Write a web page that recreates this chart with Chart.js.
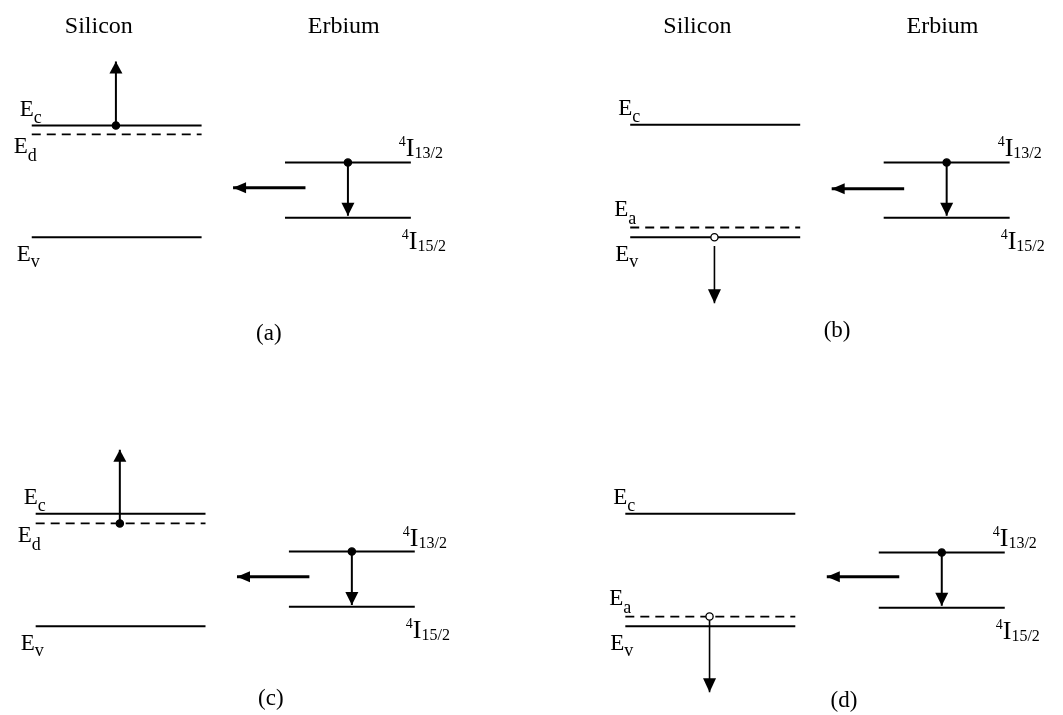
<!DOCTYPE html>
<html>
<head>
<meta charset="utf-8">
<title>Silicon / Erbium energy transfer</title>
<script src="https://cdn.jsdelivr.net/npm/chart.js@4.4.1/dist/chart.umd.min.js"></script>
<style>
  html, body { margin: 0; padding: 0; background: #fff; }
  body { width: 1063px; height: 715px; position: relative; overflow: hidden; }
  canvas { position: absolute; }
</style>
</head>
<body>
<canvas id="panel0"></canvas>
<canvas id="panel1"></canvas>
<canvas id="panel2"></canvas>
<canvas id="panel3"></canvas>
<script>
// Level energies in arbitrary units, valence band edge = 0. One entry per panel.
const panelNames = ["(a)", "(b)", "(c)", "(d)"];
const columnTitles = ["Silicon", "Erbium"];
const impuritySub = ["d", "a", "d", "a"];          // donor / acceptor
const conductionBand = [1.15, 1.16, 1.16, 1.16];
const impurityLevel = [1.06, 0.10, 1.06, 0.10];
const valenceBand = [0, 0, 0, 0];
const erUpper = [0.77, 0.77, 0.77, 0.76];          // 4I13/2
const erLower = [0.20, 0.20, 0.20, 0.19];          // 4I15/2
const carrierLevel = [1.15, 0, 1.06, 0.10];        // electron (a,c) or hole (b,d)
const carrierArrowFrom = [1.15, -0.09, 1.06, 0.10];
const carrierArrowTo = [1.81, -0.68, 1.82, -0.68];
const transferLevel = [0.51, 0.50, 0.51, 0.51];
const isHole = [false, true, false, true];

// geometry
const UNIT_PX = 38.7;     // px per horizontal unit
const ENERGY_PX = 100;    // px per energy unit
const SI_X = [0, 4.48];
const ER_X = [6.68, 10.0];
const CARRIER_X = 2.22;
const ER_ARROW_X = 8.34;
const TRANSFER_X = [7.22, 5.31];
const HEADER_X = [1.77, 8.23];
const HEADER_BASELINE = 29;

const layout = [
  { left: 0,   top: 0,   width: 520, height: 357, originX: 27,  evY: 239, capX: 269, capY: 339, header: true },
  { left: 520, top: 0,   width: 543, height: 357, originX: 627, evY: 239, capX: 838, capY: 336, header: true },
  { left: 0,   top: 357, width: 520, height: 358, originX: 31,  evY: 629, capX: 271, capY: 704, header: false },
  { left: 520, top: 357, width: 543, height: 358, originX: 622, evY: 629, capX: 845, capY: 706, header: false }
];

const SERIF = "'Liberation Serif', 'Times New Roman', serif";

function levelLine(x0, x1, e, extra) {
  return Object.assign({
    data: [{ x: x0, y: e }, { x: x1, y: e }],
    showLine: true,
    borderColor: "#000",
    borderWidth: 2,
    pointRadius: 0,
    order: 2
  }, extra || {});
}

// filled triangle at the last point of datasets flagged with arrowHead
const arrowHeads = {
  id: "arrowHeads",
  afterDatasetsDraw(chart) {
    const ctx = chart.ctx;
    chart.data.datasets.forEach((ds, i) => {
      if (!ds.arrowHead) return;
      const pts = chart.getDatasetMeta(i).data;
      const a = pts[pts.length - 2], b = pts[pts.length - 1];
      const ang = Math.atan2(b.y - a.y, b.x - a.x);
      const [len, half] = ds.arrowHead;
      ctx.save();
      ctx.translate(b.x, b.y);
      ctx.rotate(ang);
      ctx.beginPath();
      ctx.moveTo(0, 0);
      ctx.lineTo(-len, -half);
      ctx.lineTo(-len, half);
      ctx.closePath();
      ctx.fillStyle = "#000";
      ctx.fill();
      ctx.restore();
    });
  }
};

// symbols like E_c or ^4I_13/2 anchored to data coordinates
function drawSymbol(ctx, px, py, s) {
  let cx = px;
  if (s.sup) {
    ctx.font = "14px " + SERIF;
    ctx.fillText(s.sup, cx, py - 10);
    cx += ctx.measureText(s.sup).width;
  }
  ctx.font = s.mainSize + "px " + SERIF;
  ctx.fillText(s.main, cx, py);
  cx += ctx.measureText(s.main).width;
  if (s.sub) {
    ctx.font = s.subSize + "px " + SERIF;
    ctx.fillText(s.sub, cx, py + s.subDrop);
  }
}

const textLabels = {
  id: "textLabels",
  afterDatasetsDraw(chart, args, opts) {
    const { ctx, scales: { x, y } } = chart;
    ctx.save();
    ctx.fillStyle = "#000";
    ctx.textBaseline = "alphabetic";
    ctx.textAlign = "left";
    opts.symbols.forEach(s => {
      drawSymbol(ctx, x.getPixelForValue(s.x) + s.dx, y.getPixelForValue(s.y) + s.dy, s);
    });
    ctx.textAlign = "center";
    opts.plain.forEach(t => {
      ctx.font = t.size + "px " + SERIF;
      ctx.textBaseline = t.baseline;
      ctx.fillText(t.text, x.getPixelForValue(t.x), y.getPixelForValue(t.y));
    });
    ctx.restore();
  }
};

panelNames.forEach((name, i) => {
  const lay = layout[i];
  const canvas = document.getElementById("panel" + i);
  canvas.width = lay.width;
  canvas.height = lay.height;
  canvas.style.left = lay.left + "px";
  canvas.style.top = lay.top + "px";

  const xMin = (lay.left - lay.originX) / UNIT_PX;
  const xMax = (lay.left + lay.width - lay.originX) / UNIT_PX;
  const yMax = (lay.evY - lay.top) / ENERGY_PX;
  const yMin = (lay.evY - lay.top - lay.height) / ENERGY_PX;
  const toX = px => (px - lay.originX) / UNIT_PX;
  const toE = py => (lay.evY - py) / ENERGY_PX;

  const datasets = [
    // carriers and the Er ion drawn on top
    {
      data: [{ x: CARRIER_X, y: carrierLevel[i] }, { x: ER_ARROW_X, y: erUpper[i] }],
      showLine: false,
      pointRadius: 3.6,
      pointBorderWidth: 1.3,
      pointBorderColor: "#000",
      pointBackgroundColor: [isHole[i] ? "#fff" : "#000", "#000"],
      order: 0
    },
    levelLine(SI_X[0], SI_X[1], conductionBand[i]),
    levelLine(SI_X[0], SI_X[1], impurityLevel[i], { borderDash: [9, 6], borderWidth: 1.8 }),
    levelLine(SI_X[0], SI_X[1], valenceBand[i]),
    levelLine(ER_X[0], ER_X[1], erUpper[i]),
    levelLine(ER_X[0], ER_X[1], erLower[i]),
    // carrier escaping into the band
    levelLine(CARRIER_X, CARRIER_X, 0, {
      data: [{ x: CARRIER_X, y: carrierArrowFrom[i] }, { x: CARRIER_X, y: carrierArrowTo[i] }],
      borderWidth: isHole[i] ? 1.6 : 2,
      arrowHead: isHole[i] ? [14, 6.5] : [12, 6.5],
      order: 1
    }),
    // 4I13/2 -> 4I15/2 relaxation
    levelLine(ER_ARROW_X, ER_ARROW_X, 0, {
      data: [{ x: ER_ARROW_X, y: erUpper[i] }, { x: ER_ARROW_X, y: erLower[i] + 0.02 }],
      arrowHead: [13, 6.5],
      order: 1
    }),
    // energy transfer back to silicon
    levelLine(TRANSFER_X[0], TRANSFER_X[1], transferLevel[i], {
      borderWidth: 3,
      arrowHead: [13, 5.5],
      order: 1
    })
  ];

  const impAbove = impuritySub[i] === "a";
  const symbols = [
    { x: SI_X[0], y: conductionBand[i], dx: -12, dy: -10, main: "E", mainSize: 23, sub: "c", subSize: 18, subDrop: 7 },
    { x: SI_X[0], y: impurityLevel[i], dx: impAbove ? -16 : -18, dy: impAbove ? -12 : 19,
      main: "E", mainSize: 23, sub: impuritySub[i], subSize: 18, subDrop: 8 },
    { x: SI_X[0], y: valenceBand[i], dx: -15, dy: 24, main: "E", mainSize: 23, sub: "v", subSize: 18, subDrop: 6 },
    { x: ER_X[1], y: erUpper[i], dx: -12, dy: -6, sup: "4", main: "I", mainSize: 26, sub: "13/2", subSize: 16, subDrop: 2 },
    { x: ER_X[1], y: erLower[i], dx: -9, dy: 31, sup: "4", main: "I", mainSize: 26, sub: "15/2", subSize: 16, subDrop: 2 }
  ];

  const plain = [
    { text: name, x: toX(lay.capX), y: toE(lay.capY), size: 23, baseline: "middle" }
  ];
  if (lay.header) {
    columnTitles.forEach((t, k) => {
      plain.push({ text: t, x: HEADER_X[k], y: toE(lay.top + HEADER_BASELINE), size: 24, baseline: "alphabetic" });
    });
  }

  new Chart(canvas.getContext("2d"), {
    type: "scatter",
    data: { datasets },
    options: {
      responsive: false,
      animation: false,
      events: [],
      layout: { padding: 0 },
      elements: { line: { tension: 0, borderCapStyle: "butt" } },
      scales: {
        x: { type: "linear", display: false, min: xMin, max: xMax },
        y: { type: "linear", display: false, min: yMin, max: yMax }
      },
      plugins: {
        legend: { display: false },
        tooltip: { enabled: false },
        textLabels: { symbols, plain }
      }
    },
    plugins: [arrowHeads, textLabels]
  });
});
</script>
</body>
</html>
